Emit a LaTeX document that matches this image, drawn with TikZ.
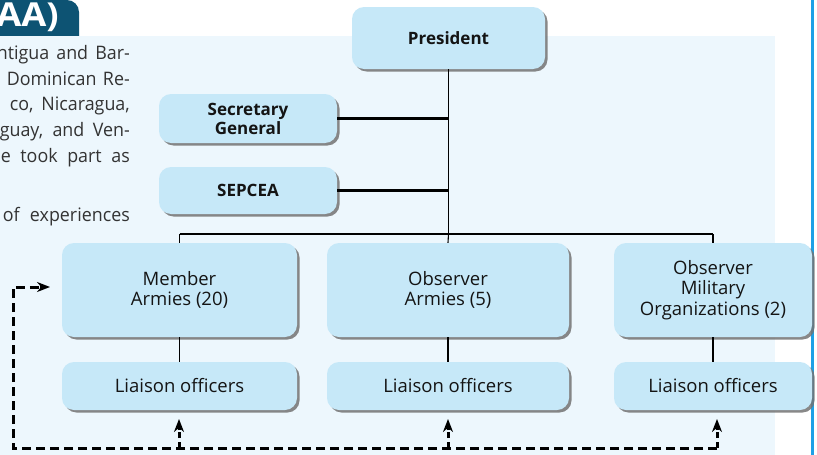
\documentclass[tikz,border=0pt]{standalone}
\usepackage{fontspec}
\usepackage{graphicx}
\setmainfont{Open Sans}
\newfontfamily\narrowfont[FakeStretch=0.96]{Open Sans}
\usetikzlibrary{shadows,arrows.meta}
\definecolor{panel}{HTML}{EDF7FD}
\definecolor{boxfill}{HTML}{C6E8F8}
\definecolor{tabcol}{HTML}{0D5373}
\definecolor{rulecol}{HTML}{1EA0E6}
\definecolor{txt}{HTML}{333333}
\newcommand{\spreadline}[2]{\makebox[#1pt][s]{#2}}
\begin{document}
\begin{tikzpicture}[x=1pt,y=-1pt,
  orgbox/.style={fill=boxfill, rounded corners=12pt, inner sep=0pt, align=center,
    text=black!92, font=\fontsize{18.5}{20.5}\selectfont,
    drop shadow={shadow xshift=2.5pt, shadow yshift=-2.5pt, fill=black!55, opacity=0.85}},
  boldbox/.style={orgbox, font=\fontsize{17}{19}\selectfont\bfseries},
  paraline/.style={anchor=base east, inner sep=0pt, text=txt, font=\narrowfont\fontsize{18.6}{21}\selectfont},
  thinline/.style={line width=1.1pt, black},
  midline/.style={line width=1.6pt, black},
  thickline/.style={line width=2.5pt, black},
  dashline/.style={line width=3pt, black, dash pattern=on 9pt off 5pt},
  tip/.style={-{Stealth[length=13pt,width=10pt]}}
]
\useasboundingbox (0,0) rectangle (817,455);
\clip (0,0) rectangle (817,455);
% tab
\fill[tabcol, rounded corners=12pt] (-20,0) rectangle (79,60);
\node[anchor=base east, inner sep=0pt, text=white, font=\fontsize{33}{36}\selectfont\bfseries] (tabtxt) at (59,27) {\scalebox{1.1}[1]{CAA)}};
% panel
\fill[panel] (0,36) rectangle (775,455);
% blue rule
\fill[rulecol] (810.5,0) rectangle (813.5,455);
% paragraph
\node[paraline] (p1) at (130,59) {\spreadline{133}{ntigua and Bar-}};
\node[paraline] (p2) at (130,85) {\spreadline{123}{Dominican Re-}};
\node[paraline] (p3) at (130,110.5) {\spreadline{120}{co, Nicaragua,}};
\node[paraline] (p4) at (130,136.5) {\spreadline{130}{guay, and Ven-}};
\node[paraline] (p5) at (130,162) {\spreadline{129}{e took part as}};
\node[paraline] (p6) at (130,221) {\spreadline{127}{of experiences}};
% boxes
\node[boldbox, minimum width=193pt, minimum height=62pt] (pres) at (448.5,38) {President};
\node[boldbox, minimum width=178pt, minimum height=49pt] (sec) at (248,118.5) {Secretary\\General};
\node[boldbox, minimum width=178pt, minimum height=47pt] (sep) at (248,190.5) {SEPCEA};
\node[orgbox, minimum width=235pt, minimum height=94pt] (mem) at (179.5,290) {Member\\Armies (20)};
\node[orgbox, minimum width=242pt, minimum height=94pt] (obs) at (448,290) {Observer\\Armies (5)};
\node[orgbox, minimum width=198pt, minimum height=94pt] (omo) at (713,290) {Observer\\Military\\Organizations (2)};
\node[orgbox, minimum width=235pt, minimum height=48pt] (li1) at (179.5,386) {Liaison officers};
\node[orgbox, minimum width=242pt, minimum height=48pt] (li2) at (448,386) {Liaison officers};
\node[orgbox, minimum width=198pt, minimum height=48pt] (li3) at (713,386) {Liaison officers};
% bus coordinates
\coordinate (busL) at (179.5,234);
\coordinate (busC) at (448.5,234);
\coordinate (busR) at (713,234);
\draw[midline] (pres.south) -- (busC);
\draw[thinline] (busL) -- (busR);
\draw[thinline] (busL) -- (mem.north);
\draw[thinline] (busC) -- (obs.north);
\draw[thinline] (busR) -- (omo.north);
\draw[thickline] (sec.east) -- (sec.east -| busC);
\draw[thickline] (sep.east) -- (sep.east -| busC);
\draw[midline] (mem.south) -- (li1.north);
\draw[thinline] (obs.south) -- (li2.north);
\draw[thinline] (omo.south) -- (li3.north);
% dashed loop
\coordinate (dBL) at (13,448);
\coordinate (dTL) at (13,287);
\coordinate (dTip) at (50,287);
\coordinate (d1) at (179,448);
\coordinate (d2) at (448,448);
\coordinate (d3) at (717,448);
\coordinate (a1) at (179,419);
\coordinate (a2) at (448,419);
\coordinate (a3) at (717,419);
\draw[dashline, line join=miter] (d3) -- (dBL) -- (dTL) -- ([xshift=-10pt]dTip);
\draw[line width=3pt, tip] ([xshift=-10pt]dTip) -- (dTip);
\foreach \d/\a in {d1/a1,d2/a2,d3/a3}{
  \draw[line width=3pt, dash pattern=on 6pt off 4pt] (\d) -- ([yshift=-11pt]\a);
  \draw[line width=3pt, tip] ([yshift=-11pt]\a) -- (\a);
}
\end{tikzpicture}
\end{document}
